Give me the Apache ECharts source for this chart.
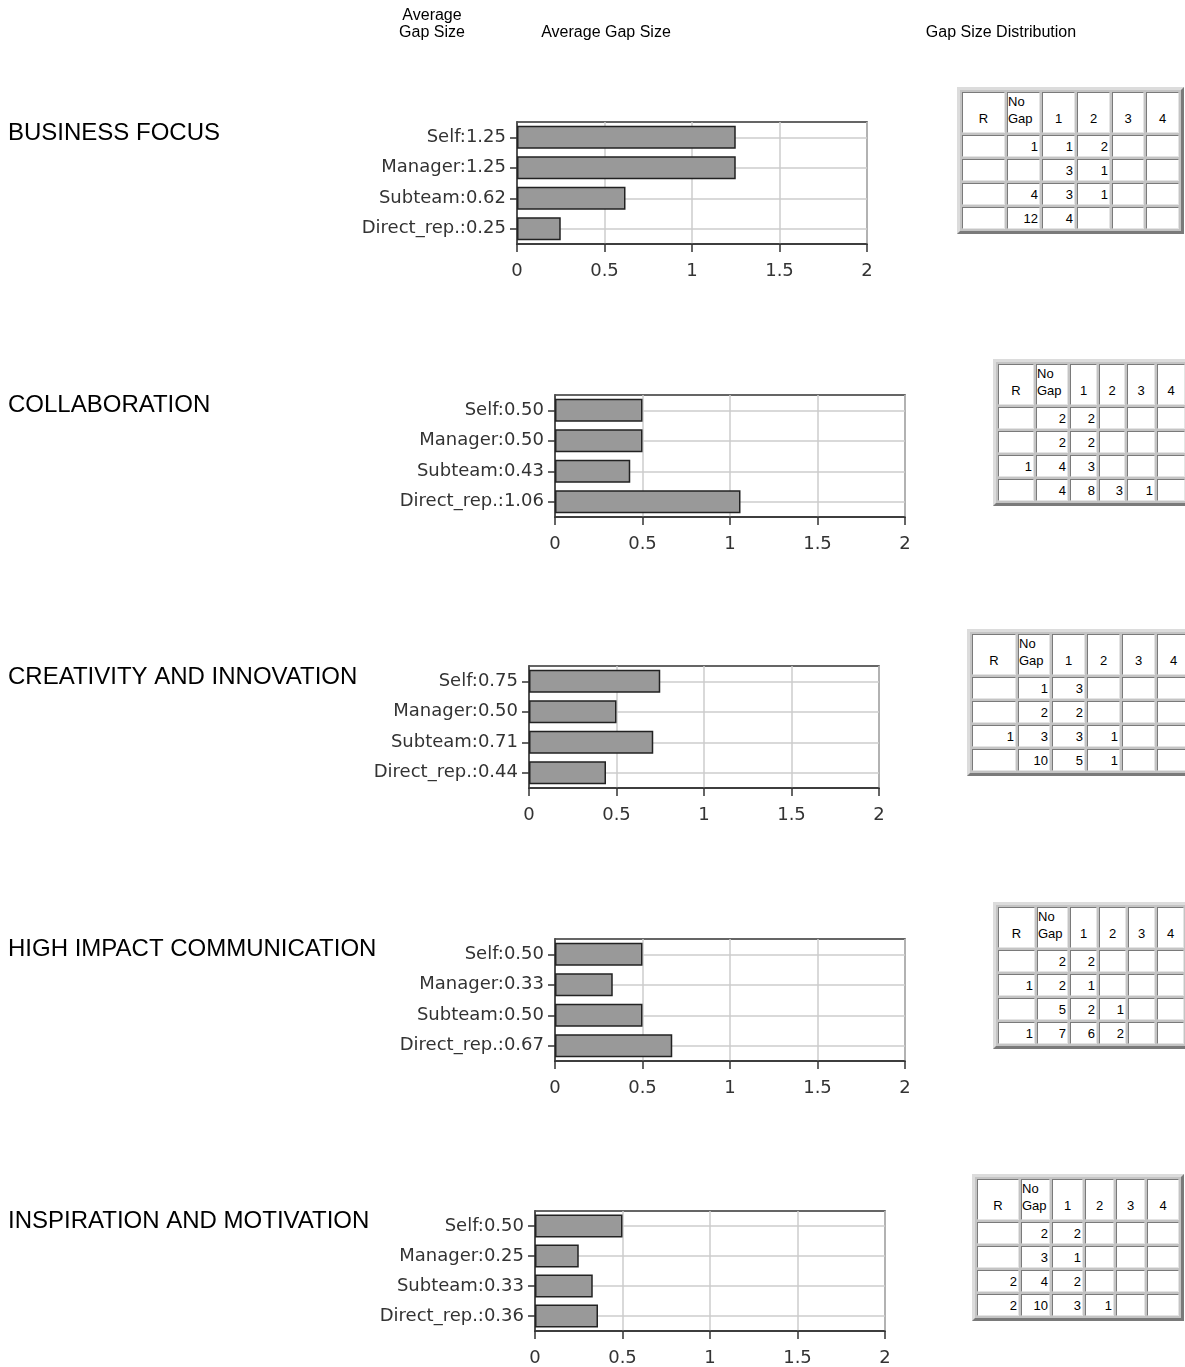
<!DOCTYPE html>
<html>
<head>
<meta charset="utf-8">
<title>Gap Size</title>
<script src="https://cdn.jsdelivr.net/npm/echarts@6.0.0/dist/echarts.min.js"></script>
<style>
  html, body { margin: 0; padding: 0; overflow: hidden; background: #fff; }
  #main { position: absolute; left: 0; top: 0; width: 1185px; height: 1367px; }
  table.dist {
    position: absolute;
    border-collapse: separate;
    border-spacing: 2px;
    border: 3px solid;
    border-color: #dcdcdc #7a7a7a #7a7a7a #dcdcdc;
    background: #c4c4c4;
    table-layout: fixed;
    font: 13px "Liberation Sans", Arial, sans-serif;
    color: #000;
  }
  table.dist td {
    border: 1px solid;
    border-color: #7a7a7a #e4e4e4 #e4e4e4 #7a7a7a;
    background: #fff;
    padding: 0 1px 0 0;
    height: 20px;
    line-height: 15px;
    text-align: right;
    white-space: nowrap;
    overflow: hidden;
  }
  table.dist td.hd {
    height: 34px;
    padding: 0 0 5px 0;
    line-height: 17px;
    text-align: center;
    vertical-align: bottom;
  }
  table.dist td.hd.left { text-align: left; }
</style>
</head>
<body>
<div id="main"></div>
<script>
(function() {
  // categories
  var raters = ['Self', 'Manager', 'Subteam', 'Direct_rep.'];
  var competencies = ['BUSINESS FOCUS', 'COLLABORATION', 'CREATIVITY AND INNOVATION',
    'HIGH IMPACT COMMUNICATION', 'INSPIRATION AND MOTIVATION'];

  // average gap size per rater
  var businessFocusGap = [1.25, 1.25, 0.62, 0.25];
  var collaborationGap = [0.50, 0.50, 0.43, 1.06];
  var creativityGap = [0.75, 0.50, 0.71, 0.44];
  var communicationGap = [0.50, 0.33, 0.50, 0.67];
  var inspirationGap = [0.50, 0.25, 0.33, 0.36];

  // x axis ticks
  var gapTicks = [0, 0.5, 1, 1.5, 2];

  // gap size distribution tables
  var distColumns = ['R', 'No<br>Gap', '1', '2', '3', '4'];
  var businessFocusDist = [
    ['', 1, 1, 2, '', ''],
    ['', '', 3, 1, '', ''],
    ['', 4, 3, 1, '', ''],
    ['', 12, 4, '', '', '']
  ];
  var collaborationDist = [
    ['', 2, 2, '', '', ''],
    ['', 2, 2, '', '', ''],
    [1, 4, 3, '', '', ''],
    ['', 4, 8, 3, 1, '']
  ];
  var creativityDist = [
    ['', 1, 3, '', '', ''],
    ['', 2, 2, '', '', ''],
    [1, 3, 3, 1, '', ''],
    ['', 10, 5, 1, '', '']
  ];
  var communicationDist = [
    ['', 2, 2, '', '', ''],
    [1, 2, 1, '', '', ''],
    ['', 5, 2, 1, '', ''],
    [1, 7, 6, 2, '', '']
  ];
  var inspirationDist = [
    ['', 2, 2, '', '', ''],
    ['', 3, 1, '', '', ''],
    [2, 4, 2, '', '', ''],
    [2, 10, 3, 1, '', '']
  ];

  var gaps = [businessFocusGap, collaborationGap, creativityGap, communicationGap, inspirationGap];
  var dists = [businessFocusDist, collaborationDist, creativityDist, communicationDist, inspirationDist];

  // layout
  var chartLeft = [517, 555, 529, 555, 535];
  var chartTop = [122, 395, 666, 939, 1211];
  var labelY = [133, 405, 677, 949, 1221];
  var tableLeft = [957, 993, 967, 993, 972];
  var tableTop = [87, 359, 629, 902, 1174];
  var tableCols = [
    [43, 33, 33, 33, 32, 33],
    [36, 32, 27, 26, 28, 28],
    [44, 32, 33, 33, 33, 33],
    [37, 31, 27, 27, 27, 27],
    [42, 29, 31, 29, 29, 32]
  ];

  var axisFont = 'DejaVu Sans';
  var textFont = 'Liberation Sans';

  var grids = [], xAxes = [], yAxes = [], series = [];
  var graphics = [
    { type: 'text', x: 432, y: 24.5, style: { text: 'Average\nGap Size', font: '16px "' + textFont + '"', lineHeight: 17, fill: '#000', align: 'center', verticalAlign: 'middle' } },
    { type: 'text', x: 606, y: 33, style: { text: 'Average Gap Size', font: '16px "' + textFont + '"', fill: '#000', align: 'center', verticalAlign: 'middle' } },
    { type: 'text', x: 1001, y: 33, style: { text: 'Gap Size Distribution', font: '16px "' + textFont + '"', fill: '#000', align: 'center', verticalAlign: 'middle' } }
  ];

  competencies.forEach(function(name, i) {
    var values = gaps[i];
    var cats = raters.map(function(r, k) {
      return r + ':' + values[k].toFixed(2);
    });

    graphics.push({
      type: 'text', x: 8, y: labelY[i],
      style: { text: name, font: '24px "' + textFont + '"', fill: '#000', align: 'left', verticalAlign: 'middle' }
    });

    grids.push({
      left: chartLeft[i], top: chartTop[i], width: 350, height: 122,
      show: true, borderColor: '#333', borderWidth: 1.5, backgroundColor: 'transparent'
    });

    xAxes.push({
      type: 'value', gridIndex: i,
      min: gapTicks[0], max: gapTicks[gapTicks.length - 1], interval: gapTicks[1] - gapTicks[0],
      axisLine: { show: true, lineStyle: { color: '#333', width: 1.5 } },
      axisTick: { show: true, length: 8, lineStyle: { color: '#333', width: 1.5 } },
      axisLabel: { fontFamily: axisFont, fontSize: 18, color: '#333', margin: 18 },
      splitLine: { show: true, lineStyle: { color: '#cccccc', width: 1.5 } }
    });

    yAxes.push({
      type: 'category', gridIndex: i, inverse: true, data: cats,
      axisLine: { show: true, lineStyle: { color: '#333', width: 1.5 } },
      axisTick: { show: true, alignWithLabel: true, length: 7, lineStyle: { color: '#333', width: 1.5 } },
      axisLabel: { fontFamily: axisFont, fontSize: 18, color: '#333', margin: 11 },
      splitLine: { show: true, alignWithLabel: true, lineStyle: { color: '#cccccc', width: 1.5 } }
    });

    series.push({
      type: 'bar', xAxisIndex: i, yAxisIndex: i,
      data: values, barWidth: 23, silent: true,
      itemStyle: { color: '#999999', borderColor: '#222', borderWidth: 1.5 }
    });

    buildTable(dists[i], tableCols[i], tableLeft[i], tableTop[i]);
  });

  function buildTable(rows, cols, left, top) {
    var spacing = 2, border = 3;
    var width = cols.reduce(function(a, b) { return a + b; }, 0) + spacing * (cols.length + 1) + border * 2;
    var html = '<colgroup>' + cols.map(function(w) {
      return '<col style="width:' + w + 'px">';
    }).join('') + '</colgroup>';
    html += '<tr>' + distColumns.map(function(c, k) {
      return '<td class="hd' + (k === 1 ? ' left' : '') + '">' + c + '</td>';
    }).join('') + '</tr>';
    rows.forEach(function(r) {
      html += '<tr>' + r.map(function(v) {
        return '<td>' + (v === '' ? '' : v) + '</td>';
      }).join('') + '</tr>';
    });
    var table = document.createElement('table');
    table.className = 'dist';
    table.style.left = left + 'px';
    table.style.top = top + 'px';
    table.style.width = width + 'px';
    table.innerHTML = html;
    document.body.appendChild(table);
  }

  var chart = echarts.init(document.getElementById('main'));
  chart.setOption({
    animation: false,
    grid: grids,
    xAxis: xAxes,
    yAxis: yAxes,
    series: series,
    graphic: graphics
  });
})();
</script>
</body>
</html>
